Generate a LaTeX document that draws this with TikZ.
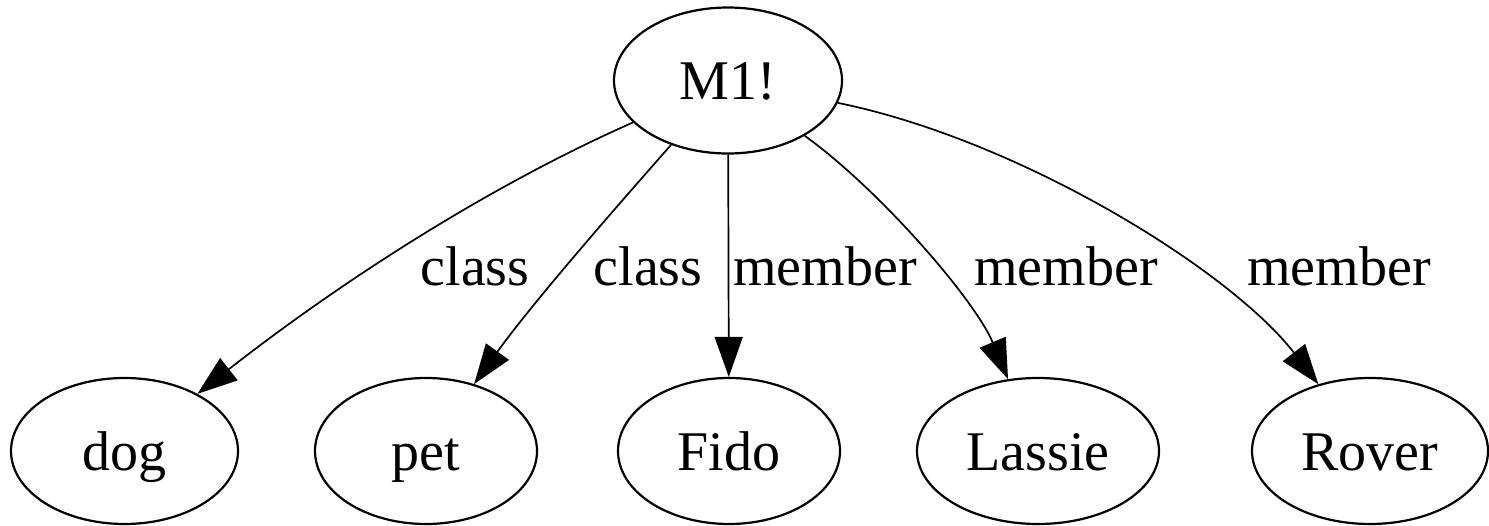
\documentclass[tikz,border=0pt]{standalone}
\usepackage{fontspec}
\setmainfont{Liberation Serif}
\usetikzlibrary{shapes.geometric,arrows.meta}

\begin{document}
\begin{tikzpicture}[x=1pt,y=-1pt,
  every node/.style={font=\fontsize{56}{60}\selectfont},
  ent/.style={draw=black, line width=2.2pt, ellipse, inner sep=0pt,
              minimum height=146pt, text height=40pt, text depth=2pt},
  rel/.style={line width=1.7pt, -{Triangle[length=40pt,width=28pt]}},
  lbl/.style={anchor=base, inner sep=0pt}
]
\useasboundingbox[fill=white] (0,0) rectangle (1489,526);

% the proposition and the entities it relates
\node[ent, minimum width=228pt] (m1)     at (728,80.5)  {M1!};
\node[ent, minimum width=227pt] (dog)    at (124.5,451) {dog};
\node[ent, minimum width=222pt] (pet)    at (426,451)   {pet};
\node[ent, minimum width=222pt] (fido)   at (729,451)   {Fido};
\node[ent, minimum width=242pt] (lassie) at (1038,451)  {Lassie};
\node[ent, minimum width=236pt] (rover)  at (1370,451)  {Rover};

% arcs from M1!
\draw[rel] (m1) .. controls (480,190) and (330,290) .. (dog);
\draw[rel] (m1) .. controls (610,214) and (531,305) .. (pet);
\draw[rel] (m1) -- (fido);
\draw[rel] (m1) .. controls (880,190) and (975,300) .. (lassie);
\draw[rel] (m1) .. controls (1020,140) and (1230,270) .. (rover);

% arc labels
\node[lbl] (l1) at (475,286)  {class};
\node[lbl] (l2) at (648,286)  {class};
\node[lbl] (l3) at (825,286)  {member};
\node[lbl] (l4) at (1066,286) {member};
\node[lbl] (l5) at (1339,286) {member};
\end{tikzpicture}
\end{document}
